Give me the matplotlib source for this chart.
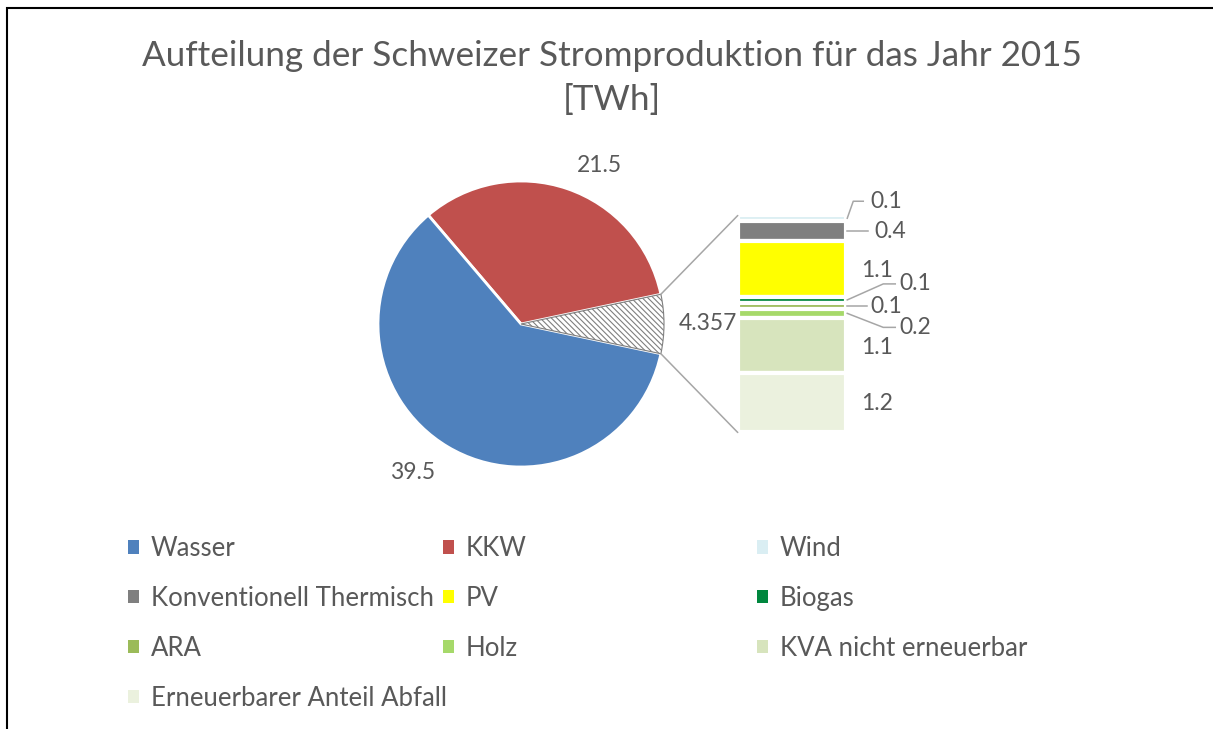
import matplotlib
matplotlib.use("Agg")
import numpy as np
import matplotlib.pyplot as plt
from matplotlib.patches import Patch, Rectangle, ConnectionPatch
from matplotlib.transforms import Affine2D, ScaledTranslation

plt.rcParams["font.family"] = ["Lato", "DejaVu Sans"]
plt.rcParams["hatch.linewidth"] = 0.8

# data
main_labels = ["Wasser", "KKW"]
main_values = [39.5, 21.5]
main_colors = ["#4F81BD", "#C0504D"]

other_labels = ["Wind", "Konventionell Thermisch", "PV", "Biogas", "ARA", "Holz",
                "KVA nicht erneuerbar", "Erneuerbarer Anteil Abfall"]
other_values = [0.11, 0.41, 1.12, 0.11, 0.12, 0.19, 1.11, 1.187]
other_colors = ["#DAEEF3", "#7F7F7F", "#FFFF00", "#00873E", "#9BBB59", "#A6D96A",
                "#D7E4BD", "#EBF1DE"]

title = "Aufteilung der Schweizer Stromproduktion für das Jahr 2015\n[TWh]"

TXT = "#595959"
LINE = "#A6A6A6"
W, H = 1213, 729


def px_rect(x0, y0, x1, y1):
    """pixel box (top-left origin) -> figure fraction rect"""
    return [x0 / W, 1 - y1 / H, (x1 - x0) / W, (y1 - y0) / H]


fig = plt.figure(figsize=(W / 100, H / 100), dpi=100)

# frame around the chart (right/bottom cut off)
fig.add_artist(Rectangle((7 / W, -0.1), 2, 1 - 7.5 / H + 0.1, transform=fig.transFigure,
                         fill=False, edgecolor="black", linewidth=1.5))

fig.text(612 / W, 1 - 78 / H, title, ha="center", va="center", fontsize=25.3,
         color=TXT, linespacing=1.45)

# pie
other_total = round(sum(other_values), 3)
pie_vals = [other_total, main_values[1], main_values[0]]
pie_cols = ["white", main_colors[1], main_colors[0]]
other_angle = 360 * other_total / sum(pie_vals)

ax_pie = fig.add_axes(px_rect(521 - 143, 324 - 143, 521 + 143, 324 + 143))
wedges, _ = ax_pie.pie(pie_vals, colors=pie_cols, startangle=-other_angle / 2,
                       counterclock=True, radius=1,
                       wedgeprops=dict(edgecolor="white", linewidth=2))
wedges[0].set_hatch("\\\\\\\\\\\\")
wedges[0].set_edgecolor("#7F7F7F")
wedges[0].set_linewidth(0.8)
wedges[0].set_zorder(5)
ax_pie.set_xlim(-1, 1)
ax_pie.set_ylim(-1, 1)
ax_pie.axis("off")

# pie value labels
ax_pie.text(0.55, 1.11, f"{main_values[1]:.1f}", ha="center", va="center", fontsize=16.5, color=TXT)
ax_pie.text(-0.755, -1.035, f"{main_values[0]:.1f}", ha="center", va="center", fontsize=16.5, color=TXT)
ax_pie.text(1.31, 0.0, f"{other_total:g}", ha="center", va="center", fontsize=16.5, color=TXT)

# stacked bar of "other"
ax_bar = fig.add_axes(px_rect(737.75, 215.5, 846.25, 432.5))
tops = other_total - np.cumsum([0] + other_values[:-1])
for val, top, col in zip(other_values, tops, other_colors):
    ax_bar.bar(0, val, bottom=top - val, width=1, color=col, edgecolor="white",
               linewidth=3.0, clip_on=False)
ax_bar.set_xlim(-0.5, 0.5)
ax_bar.set_ylim(0, other_total)
ax_bar.axis("off")

# connector lines pie -> bar
half = np.deg2rad(other_angle / 2)
for sgn, yb in [(1, other_total), (-1, 0)]:
    con = ConnectionPatch(xyA=(np.cos(half), sgn * np.sin(half)), coordsA=ax_pie.transData,
                          xyB=(-0.5, yb), coordsB=ax_bar.transData,
                          color=LINE, linewidth=1.1)
    fig.add_artist(con)

# bar labels (offsets in pixels from right edge / segment middle)
lab_dx = [40, 44, 31, 69, 40, 69, 31, 31]
lab_dy = [17, 0, -1.5, 16.5, -1, -14, -1.5, -0.5]
leaders = [[(1, 0), (7, 17), (17, 17)],
           [(1, 0), (22, 0)],
           None,
           [(1, 0), (37, 16), (49, 16)],
           [(1, 0), (21, 0)],
           [(1, 0), (37, -14), (49, -14)],
           None,
           None]
for val, top, dx, dy, lead in zip(other_values, tops, lab_dx, lab_dy, leaders):
    mid = top - val / 2
    ax_bar.annotate(f"{val:.1f}", xy=(0.5, mid), xytext=(dx, dy), textcoords="offset pixels",
                    ha="center", va="center", fontsize=16.5, color=TXT, annotation_clip=False)
    if lead:
        tr = Affine2D().scale(1 / 100) + fig.dpi_scale_trans + ScaledTranslation(0.5, mid, ax_bar.transData)
        xs, ys = zip(*lead)
        ax_bar.plot(xs, ys, transform=tr, color=LINE, linewidth=1.1, clip_on=False)

# legend in three columns
all_labels = main_labels + other_labels
all_colors = main_colors + other_colors
handles = [Patch(facecolor=c, edgecolor="none", label=l) for l, c in zip(all_labels, all_colors)]
col_x = [128, 443, 757]
for ci, x in enumerate(col_x):
    hs = handles[ci::3]
    fig.legend(handles=hs, loc="upper left", bbox_to_anchor=(x / W, 1 - 536 / H),
               frameon=False, fontsize=18.5, labelcolor=TXT, handlelength=0.43,
               handleheight=0.43, handletextpad=0.45, labelspacing=0.97,
               borderpad=0, borderaxespad=0)

fig.savefig("out.png", dpi=100)
